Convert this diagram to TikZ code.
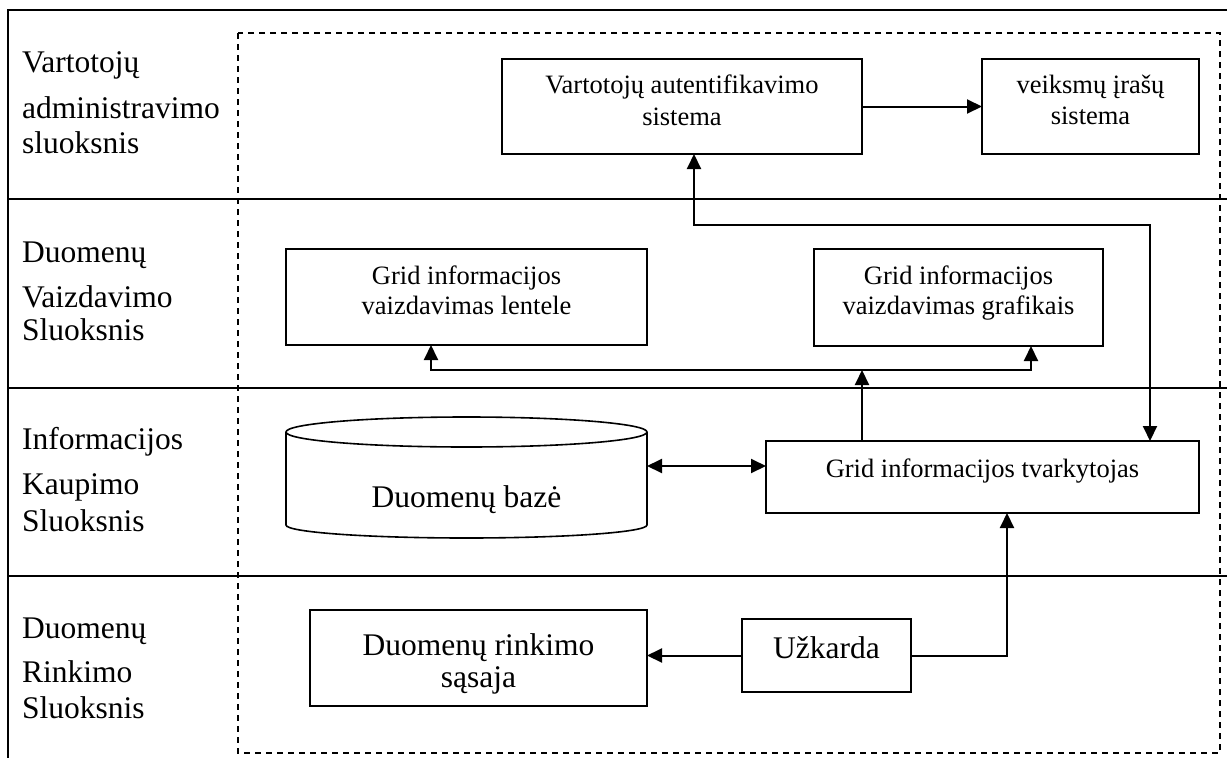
\documentclass[tikz,border=0pt]{standalone}
\usepackage{fontspec}
\setmainfont{Liberation Serif}
\usetikzlibrary{arrows.meta,calc}

\begin{document}
\begin{tikzpicture}[
  x=1pt, y=-1pt,
  frame/.style={line width=2pt},
  zone/.style={line width=1.4pt, dash pattern=on 6pt off 5pt},
  box/.style={draw, line width=1.6pt, inner sep=0pt, outer sep=0pt},
  conn/.style={line width=2pt, >={Triangle[length=15pt,width=14pt]}},
  lab/.style={anchor=base west, inner sep=0pt, font=\fontsize{31.5}{35}\selectfont},
  btxt/.style={anchor=base, inner sep=0pt, font=\fontsize{26.5}{31}\selectfont},
  bigtxt/.style={anchor=base, inner sep=0pt, font=\fontsize{31.5}{35}\selectfont}
]
\useasboundingbox (0,0) rectangle (1227,758);

% layer table
\draw[frame] (8,758) -- (8,10) -- (1227,10);
\draw[frame] (8,199) -- (1227,199);
\draw[frame] (8,388) -- (1227,388);
\draw[frame] (8,576) -- (1227,576);

% system boundary
\draw[zone] (238,33) rectangle (1220,753);

% layer names
\node[lab] (l1a) at (22,72)  {Vartotojų};
\node[lab] (l1b) at (22,118) {administravimo};
\node[lab] (l1c) at (22,153) {sluoksnis};
\node[lab] (l2a) at (22,262) {Duomenų};
\node[lab] (l2b) at (22,307) {Vaizdavimo};
\node[lab] (l2c) at (22,340) {Sluoksnis};
\node[lab] (l3a) at (22,449) {Informacijos};
\node[lab] (l3b) at (22,494) {Kaupimo};
\node[lab] (l3c) at (22,531) {Sluoksnis};
\node[lab] (l4a) at (22,638) {Duomenų};
\node[lab] (l4b) at (22,682) {Rinkimo};
\node[lab] (l4c) at (22,718) {Sluoksnis};

% components
\node[box, line width=2.2pt, minimum width=360pt, minimum height=95pt] (auth) at (682,106.5) {};
\node[btxt] (auth1) at (682,93)  {Vartotojų autentifikavimo};
\node[btxt] (auth2) at (682,125) {sistema};

\node[box, minimum width=217pt, minimum height=95pt] (log) at (1090.5,106.5) {};
\node[btxt] (log1) at (1090.5,93)  {veiksmų įrašų};
\node[btxt] (log2) at (1090.5,124) {sistema};

\node[box, minimum width=361pt, minimum height=96pt] (tab) at (466.5,297) {};
\node[btxt] (tab1) at (466.5,284) {Grid informacijos};
\node[btxt] (tab2) at (466.5,314) {vaizdavimas lentele};

\node[box, minimum width=289pt, minimum height=97pt] (gra) at (958.5,297.5) {};
\node[btxt] (gra1) at (958.5,284) {Grid informacijos};
\node[btxt] (gra2) at (958.5,314) {vaizdavimas grafikais};

\node[box, minimum width=433pt, minimum height=72pt] (mgr) at (982.5,477) {};
\node[btxt] (mgr1) at (982.5,477) {Grid informacijos tvarkytojas};

% database cylinder
\node[inner sep=0pt, outer sep=0pt, minimum width=361pt, minimum height=93pt] (db) at (466.5,478.5) {};
\draw[line width=1.6pt] (db.north) ellipse [x radius=180.5pt, y radius=15pt];
\draw[line width=1.6pt] (db.north west) -- (db.south west)
  arc[start angle=180, end angle=360, x radius=180.5pt, y radius=13pt] -- (db.north east);
\node[bigtxt] (db1) at (466.5,507) {Duomenų bazė};

\node[box, minimum width=169pt, minimum height=73pt] (fw) at (826.5,655.5) {};
\node[bigtxt] (fw1) at (826.5,658) {Užkarda};

\node[box, minimum width=337pt, minimum height=96pt] (col) at (478.5,658) {};
\node[bigtxt] (col1) at (478.5,655) {Duomenų rinkimo};
\node[bigtxt] (col2) at (478.5,687) {sąsaja};

% connectors
\draw[conn,->] (auth.east) -- (log.west);
\draw[conn,<->] ([xshift=12pt]auth.south) -- ++(0,71) -| ([xshift=167.5pt]mgr.north);

\coordinate (bus) at (862,370);
\draw[conn,->] (mgr.north -| bus) -- (bus);
\draw[conn,->] (bus) -| ([xshift=-35.5pt]tab.south);
\draw[conn,->] (bus) -| ([xshift=72.5pt]gra.south);

\draw[conn,<->] ([yshift=11pt]mgr.west) -- ([yshift=11pt]mgr.west -| db.east);

\draw[conn,->] (fw.west) -- (fw.west -| col.east);
\draw[conn,->] (fw.east) -| ([xshift=24.5pt]mgr.south);

\end{tikzpicture}
\end{document}
